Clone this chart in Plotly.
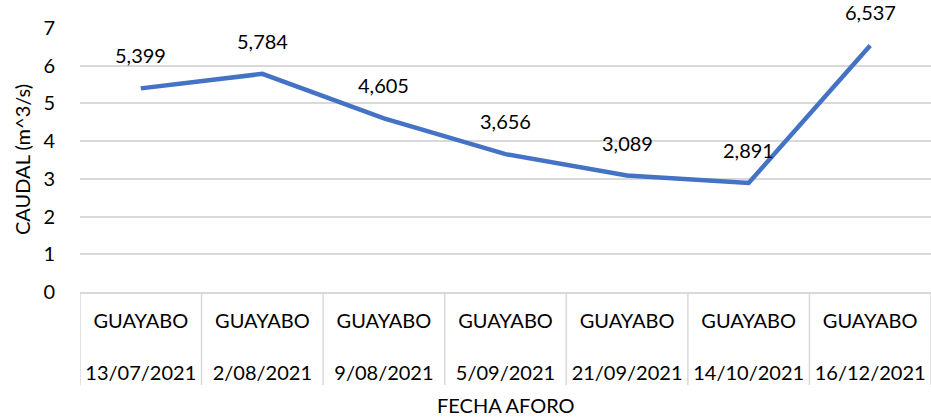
import plotly.graph_objects as go

sites = ["GUAYABO"] * 7
dates = ["13/07/2021", "2/08/2021", "9/08/2021", "5/09/2021",
         "21/09/2021", "14/10/2021", "16/12/2021"]
caudal = [5.399, 5.784, 4.605, 3.656, 3.089, 2.891, 6.537]
labels = ["5,399", "5,784", "4,605", "3,656", "3,089", "2,891", "6,537"]
y_ticks = [0, 1, 2, 3, 4, 5, 6, 7]

FONT = "Lato"
idx = list(range(len(dates)))

fig = go.Figure()
fig.add_trace(go.Scatter(
    x=idx, y=caudal, mode="lines",
    line=dict(color="#4472C4", width=4.5),
    hoverinfo="skip", showlegend=False, cliponaxis=False,
))

for i, v, t in zip(idx, caudal, labels):
    fig.add_annotation(x=i, y=v, text=t, showarrow=False, yshift=33,
                       font=dict(family=FONT, size=20, color="#000000"))

# category separators
for k in range(len(dates) + 1):
    fig.add_shape(type="line", xref="x", yref="paper",
                  x0=k - 0.5, x1=k - 0.5, y0=0, y1=-0.352,
                  line=dict(color="#d9d9d9", width=1.5))

# axis titles
fig.add_annotation(xref="paper", yref="paper", x=0.5, y=0, yshift=-113,
                   text="FECHA AFORO", showarrow=False, yanchor="middle",
                   font=dict(family=FONT, size=20, color="#000000"))
fig.add_annotation(xref="paper", yref="paper", x=0, y=0.5, xshift=-58,
                   text="CAUDAL (m^3/s)", showarrow=False, textangle=-90,
                   xanchor="center", yanchor="middle",
                   font=dict(family=FONT, size=20, color="#000000"))

fig.update_layout(
    width=931, height=420,
    margin=dict(l=80, r=0, t=28, b=128),
    paper_bgcolor="white", plot_bgcolor="white",
    font=dict(family=FONT, size=20, color="#000000"),
    xaxis=dict(
        range=[-0.5, 6.5], tickmode="array", tickvals=idx,
        ticktext=[f"{s}<br><br>{d}" for s, d in zip(sites, dates)],
        showgrid=False, zeroline=False, showline=True,
        linecolor="#d9d9d9", linewidth=1.5, ticks="",
        automargin=False, ticklabelstandoff=10,
        tickfont=dict(family=FONT, size=20),
        fixedrange=True,
    ),
    yaxis=dict(
        range=[0, 7], tickmode="array", tickvals=y_ticks,
        showgrid=True, gridcolor="#d9d9d9", gridwidth=1.5,
        zeroline=False, showline=False, ticks="",
        ticklabelstandoff=24, automargin=False,
        tickfont=dict(family=FONT, size=20),
        fixedrange=True,
    ),
)

fig.write_html("out.html",
               config={"displayModeBar": False},
               post_script="document.body.style.margin='0';")
